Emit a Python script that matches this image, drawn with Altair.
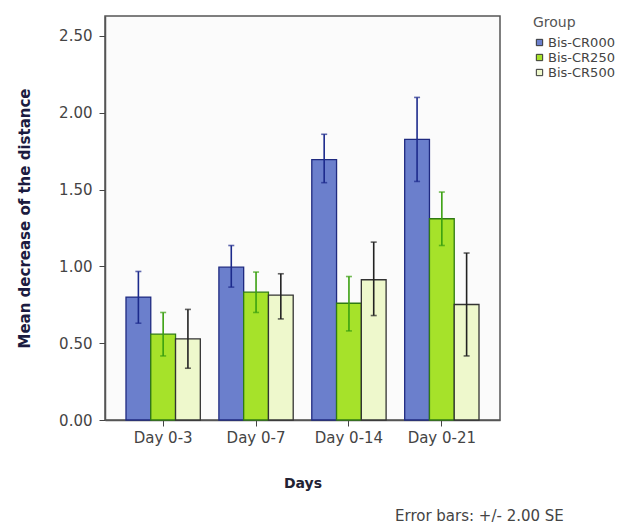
import altair as alt
import pandas as pd

days = ["Day 0-3", "Day 0-7", "Day 0-14", "Day 0-21"]
groups = ["Bis-CR000", "Bis-CR250", "Bis-CR500"]

mean_cr000 = [0.80, 0.995, 1.695, 1.827]
mean_cr250 = [0.559, 0.832, 0.76, 1.31]
mean_cr500 = [0.528, 0.813, 0.913, 0.752]

lo_cr000 = [0.63, 0.865, 1.545, 1.553]
hi_cr000 = [0.967, 1.136, 1.86, 2.10]
lo_cr250 = [0.417, 0.70, 0.58, 1.136]
hi_cr250 = [0.70, 0.963, 0.934, 1.484]
lo_cr500 = [0.337, 0.658, 0.68, 0.417]
hi_cr500 = [0.72, 0.952, 1.158, 1.087]

fills = ["#6b7fcc", "#a6e22a", "#eef8cc"]
strokes = ["#1f2a80", "#2f7a12", "#333333"]
errcols = ["#1c2a8c", "#3aa010", "#222222"]

rows = []
for g, m, lo, hi in zip(groups,
                        [mean_cr000, mean_cr250, mean_cr500],
                        [lo_cr000, lo_cr250, lo_cr500],
                        [hi_cr000, hi_cr250, hi_cr500]):
    for d, mv, l, h in zip(days, m, lo, hi):
        rows.append({"Days": d, "Group": g, "mean": mv, "lo": l, "hi": h})
df = pd.DataFrame(rows)

FONT = "DejaVu Sans"

xenc = alt.X("Days:N", sort=days,
             scale=alt.Scale(paddingInner=0.2, paddingOuter=0.226),
             axis=alt.Axis(title="Days", labelAngle=0, labelFontSize=15,
                           labelColor="#444444", labelFont=FONT,
                           titleFont=FONT, titleFontSize=14, titleFontWeight="bold",
                           titleColor="#222233", titlePadding=31,
                           tickSize=6, tickColor="#444444", labelPadding=4,
                           domainColor="#555555", domainWidth=1.5))
xoff = alt.XOffset("Group:N", sort=groups,
                   scale=alt.Scale(paddingInner=0, paddingOuter=0))
yscale = alt.Scale(domain=[0, 2.63], nice=False, zero=True)

bars = alt.Chart(df).mark_bar(strokeWidth=1.3).encode(
    x=xenc,
    xOffset=xoff,
    y=alt.Y("mean:Q", scale=yscale,
            axis=alt.Axis(title="Mean decrease of the distance",
                          values=[0, 0.5, 1.0, 1.5, 2.0, 2.5], format=".2f",
                          grid=False, labelFontSize=15, labelColor="#444444",
                          labelFont=FONT, titleFont=FONT, titleFontSize=15,
                          titleFontWeight="bold", titleColor="#1b1b40",
                          titlePadding=26, tickSize=6, tickColor="#444444",
                          labelPadding=7, domainColor="#555555", domainWidth=1.5)),
    fill=alt.Fill("Group:N", sort=groups,
                  scale=alt.Scale(domain=groups, range=fills),
                  legend=alt.Legend(title="Group", orient="none",
                                    legendX=428, legendY=0,
                                    titleFont=FONT, titleFontSize=14,
                                    titleFontWeight="normal", titleColor="#555555",
                                    labelFont=FONT, labelFontSize=13,
                                    labelColor="#444444", symbolType="square",
                                    symbolSize=40, symbolStrokeColor="#333333",
                                    symbolStrokeWidth=1, rowPadding=1,
                                    labelOffset=2, titlePadding=6)),
    stroke=alt.Stroke("Group:N", sort=groups,
                      scale=alt.Scale(domain=groups, range=strokes), legend=None),
)

rules = alt.Chart(df).mark_rule(strokeWidth=1.6).encode(
    x=alt.X("Days:N", sort=days),
    xOffset=xoff,
    y=alt.Y("lo:Q", scale=yscale),
    y2="hi:Q",
    color=alt.Color("Group:N", sort=groups,
                    scale=alt.Scale(domain=groups, range=errcols), legend=None),
)

caps_hi = alt.Chart(df).mark_tick(orient="horizontal", size=6, thickness=1.6).encode(
    x=alt.X("Days:N", sort=days),
    xOffset=xoff,
    y=alt.Y("hi:Q", scale=yscale),
    color=alt.Color("Group:N", sort=groups,
                    scale=alt.Scale(domain=groups, range=errcols), legend=None),
)
caps_lo = alt.Chart(df).mark_tick(orient="horizontal", size=6, thickness=1.6).encode(
    x=alt.X("Days:N", sort=days),
    xOffset=xoff,
    y=alt.Y("lo:Q", scale=yscale),
    color=alt.Color("Group:N", sort=groups,
                    scale=alt.Scale(domain=groups, range=errcols), legend=None),
)

note = alt.Chart(pd.DataFrame({"t": ["Error bars: +/- 2.00 SE"]})).mark_text(
    align="left", baseline="alphabetic", font=FONT, fontSize=15,
    color="#444444").encode(text="t:N", x=alt.value(290), y=alt.value(505))

chart = alt.layer(bars, rules, caps_hi, caps_lo, note).resolve_scale(
    color="independent", stroke="independent"
).properties(
    width=395, height=404,
    autosize=alt.AutoSizeParams(type="none"),
    padding={"left": 97, "top": 8, "right": 125, "bottom": 104},
    background="white",
).configure_view(
    stroke="#555555", strokeWidth=1.5, fill="#fbfbfb"
)

chart.save("out.html", embed_options={"renderer": "svg", "actions": False})
